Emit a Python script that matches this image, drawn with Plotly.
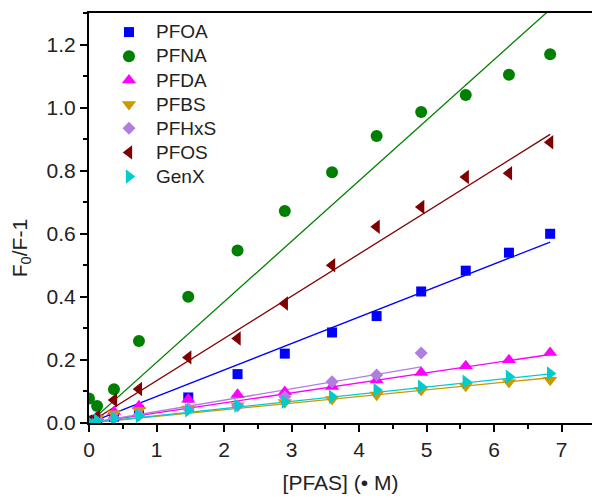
import plotly.graph_objects as go

# ---- data ----
conc = [0, 0.12, 0.37, 0.74, 1.47, 2.2, 2.9, 3.6, 4.26, 4.92, 5.58, 6.22, 6.83]

names = ["PFOA", "PFNA", "PFDA", "PFBS", "PFHxS", "PFOS", "GenX"]

pfoa = [0.0, 0.01, 0.02, 0.04, 0.081, 0.155, 0.22, 0.287, 0.339, 0.417, 0.483, 0.54, 0.60]
pfna = [0.078, 0.054, 0.107, 0.26, 0.40, 0.547, 0.672, 0.795, 0.91, 0.986, 1.04, 1.104, 1.169]
pfda = [0.005, 0.02, 0.036, 0.054, 0.075, 0.09, 0.099, 0.115, 0.136, 0.16, 0.181, 0.2, 0.223]
pfbs = [0.005, 0.015, 0.03, 0.04, 0.045, 0.055, 0.065, 0.075, 0.089, 0.104, 0.117, 0.129, 0.136]
pfhxs = [0.005, 0.01, 0.015, 0.025, 0.045, 0.055, 0.083, 0.131, 0.152, 0.222]
pfos = [0.005, 0.02, 0.073, 0.108, 0.208, 0.268, 0.379, 0.50, 0.622, 0.685, 0.78, 0.792, 0.89]
genx = [0.003, 0.008, 0.015, 0.022, 0.04, 0.055, 0.067, 0.083, 0.105, 0.115, 0.131, 0.147, 0.157]

# slopes of the fitted lines (through origin)
slopes = [0.084, 0.192, 0.0318, 0.021, 0.0362, 0.134, 0.0228]

series = [pfoa, pfna, pfda, pfbs, pfhxs, pfos, genx]

# ---- styles ----
colors = ["#0000FF", "#008000", "#FF00FF", "#CC9900", "#B07EE0", "#800000", "#00CCCC"]
symbols = ["square", "circle", "triangle-up", "triangle-down", "diamond", "triangle-left", "triangle-right"]
sizes = [10, 12, 12.5, 12.5, 10, 12.5, 12.5]

fig = go.Figure()

# fit lines
for name, ys, k, c in zip(names, series, slopes, colors):
    xs = conc[:len(ys)]
    xl = [0, xs[-1]]
    fig.add_trace(go.Scatter(x=xl, y=[k * v for v in xl], mode="lines",
                             line=dict(color=c, width=1.3), showlegend=False,
                             hoverinfo="skip"))

# markers
for name, ys, c, s, sz in zip(names, series, colors, symbols, sizes):
    fig.add_trace(go.Scatter(x=conc[:len(ys)], y=ys, mode="markers",
                             name='<span style="font-size:19px">%s</span>' % name,
                             marker=dict(color=c, symbol=s, size=sz, line=dict(width=0))))

axis_font = dict(family="Liberation Sans, Arial, sans-serif", size=21, color="#222222")

fig.update_layout(
    width=592, height=502,
    margin=dict(l=89, r=0, t=13, b=79),
    plot_bgcolor="white", paper_bgcolor="white",
    font=dict(family="Liberation Sans, Arial, sans-serif", size=18, color="#222222"),
    legend=dict(x=0.0258, y=0.995, xanchor="left", yanchor="top",
                bgcolor="rgba(0,0,0,0)", font=dict(size=16.2), itemwidth=44,
                tracegroupgap=0),
    xaxis=dict(range=[0, 7.45], dtick=1, tick0=0, showgrid=False, zeroline=False,
               showline=True, linecolor="black", linewidth=2, mirror=True,
               ticks="outside", ticklen=7, tickwidth=2, tickcolor="black",
               tickfont=axis_font,
               minor=dict(dtick=0.5, ticks="outside", ticklen=4, tickwidth=2, tickcolor="black"),
               title=dict(text="[PFAS] (• M)", font=axis_font, standoff=15)),
    yaxis=dict(range=[0, 1.3], dtick=0.2, tick0=0, tickformat=".1f", showgrid=False,
               zeroline=False, showline=True, linecolor="black", linewidth=2,
               ticks="outside", ticklen=7, tickwidth=2, tickcolor="black",
               tickfont=axis_font,
               minor=dict(dtick=0.1, ticks="outside", ticklen=4, tickwidth=2, tickcolor="black")),
    annotations=[dict(text="F<sub>0</sub>/F-1", textangle=-90, xref="paper", yref="y",
                      x=0, y=0.554, xanchor="center", yanchor="middle", xshift=-68,
                      showarrow=False, font=axis_font)],
)

fig.write_html("out.html")
